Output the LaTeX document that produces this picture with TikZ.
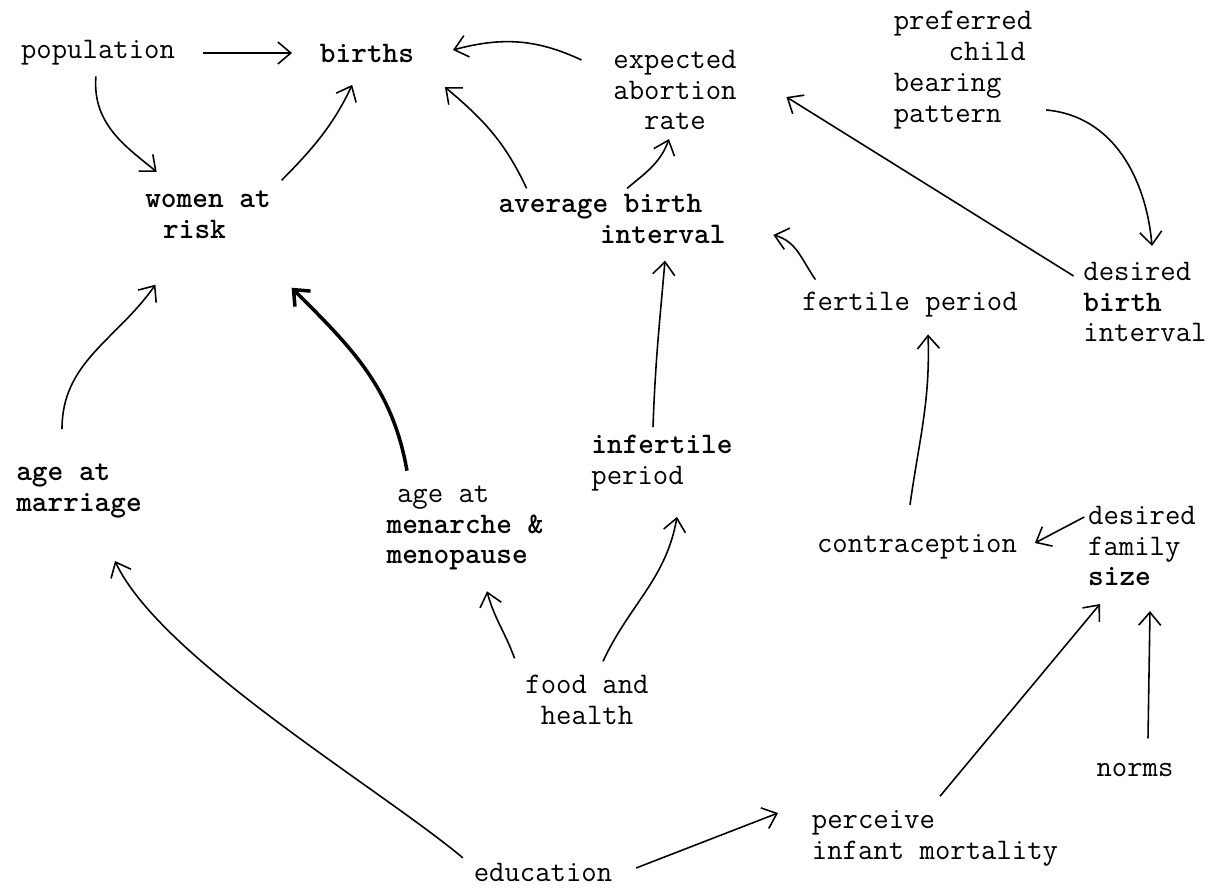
\documentclass[tikz,border=0pt]{standalone}
\usepackage{fontspec}
\usepackage{tikz}
\usetikzlibrary{arrows.meta}

\begin{document}
\begin{tikzpicture}[
        x=0.02cm, y=0.02cm,
        factor/.style={inner sep=6pt, align=left, font=\ttfamily\fontsize{17}{17.6}\selectfont},
        inked/.style={factor, font=\ttfamily\bfseries\fontsize{17}{17.6}\selectfont},
        arrow/.style={-{Straight Barb[length=2.6mm, width=4.4mm]}, line width=0.9pt},
        heavy/.style={arrow, line width=2pt}
    ]
    \useasboundingbox (0,0) rectangle (1221,-892);

    % top row
    \node (pop) [factor] at (98,-53) {population};
    \node (births) [inked] at (367,-53) {births};
    \node (abort) [factor, align=center] at (675,-90) {expected\\ abortion\\ rate};
    \node (pref) [factor] at (963,-70) {preferred\\ \hspace*{1.84em}child\\ bearing\\ pattern};

    % second row
    \node (women) [inked] at (208,-215) {women at\\ \hspace*{.6em}risk};
    \node (avg) [inked] at (612,-219) {average birth\\ \hspace*{3.4em}interval};
    \node (fertile) [factor] at (910,-305) {fertile period};
    \node (dbirth) [factor] at (1145,-302) {desired\\ \textbf{birth}\\ interval};

    % third row
    \node (marr) [inked] at (79,-491) {age at\\ marriage};
    \node (men) [factor] at (465,-528) {\hspace*{.35em}age at\\ \textbf{menarche \&}\\ \textbf{menopause}};
    \node (infert) [factor] at (662,-463) {\textbf{infertile}\\ period};
    \node (contra) [factor] at (917,-547) {contraception};
    \node (dfam) [factor] at (1142,-546) {desired\\ family\\ \textbf{size}};

    % bottom
    \node (food) [factor, align=center] at (587,-700) {food and\\ health};
    \node (norms) [factor] at (1135,-770) {norms};
    \node (perc) [factor] at (935,-838) {perceive\\ infant mortality};
    \node (edu) [factor] at (543,-872) {education};

    % links into births
    \draw [arrow, shorten <=0.34cm, shorten >=0.34cm] (pop) -- (births);
    \draw [arrow, shorten >=0.26cm] (pop) to[out=-95, in=140] (women);
    \draw [arrow, shorten >=0.26cm] (women.north east) to[out=45, in=-115] (births);
    \draw [arrow] ([shift={(-21,30)}]abort.west) to[out=155, in=15] ([shift={(28,3)}]births.east);
    \draw [arrow] ([shift={(39,-5)}]avg.north west) to[out=115, in=-40] ([shift={(20,-14)}]births.south east);

    % birth interval
    \draw [arrow] ([shift={(15,-5)}]avg.north) to[out=40, in=-110] ([shift={(-6,2)}]abort.south);
    \draw [arrow] ([shift={(-9,-3)}]infert.north) to[out=88, in=-95] ([shift={(53,-6)}]avg.south);
    \draw [arrow] ([shift={(24,2)}]fertile.north west) to[out=125, in=-15] ([shift={(37,-16)}]avg.east);
    \draw [arrow] ([shift={(1,-25)}]dbirth.north west) -- ([shift={(39,-7)}]abort.east);
    \draw [arrow] ([shift={(3,-40)}]pref.east) to[out=-5, in=95] ([shift={(7,5)}]dbirth.north);
    \draw [arrow] ([shift={(-7,19)}]contra.north) to[out=82, in=-88] ([shift={(18,-6)}]fertile.south);

    % family size
    \draw [arrow] ([shift={(7,29)}]dfam.west) -- ([shift={(7,4)}]contra.east);
    \draw [arrow] ([shift={(13,14)}]norms.north) -- ([shift={(8,-14)}]dfam.south);
    \draw [arrow] ([shift={(5,3)}]perc.north) -- ([shift={(-42,-7)}]dfam.south);
    \draw [arrow] ([shift={(13,4)}]edu.east) -- ([shift={(-23,25)}]perc.west);

    % women at risk
    \draw [arrow] ([shift={(0,-6)}]edu.north west) to[out=140, in=-65, looseness=0.6] ([shift={(36,-32)}]marr.south);
    \draw [arrow] ([shift={(0,6)}]food.north west) to[out=110, in=-75] ([shift={(22,-10)}]men.south);
    \draw [arrow] ([shift={(16,3)}]food.north) to[out=65, in=-100] ([shift={(15,-15)}]infert.south);
    \draw [heavy] ([shift={(-58,4)}]men.north) to[out=100, in=-45] ([shift={(10,-38)}]women.south east);
    \draw [arrow] ([shift={(-17,24)}]marr.north) to[out=90, in=-125] ([shift={(21,-35)}]women.south west);
\end{tikzpicture}
\end{document}
